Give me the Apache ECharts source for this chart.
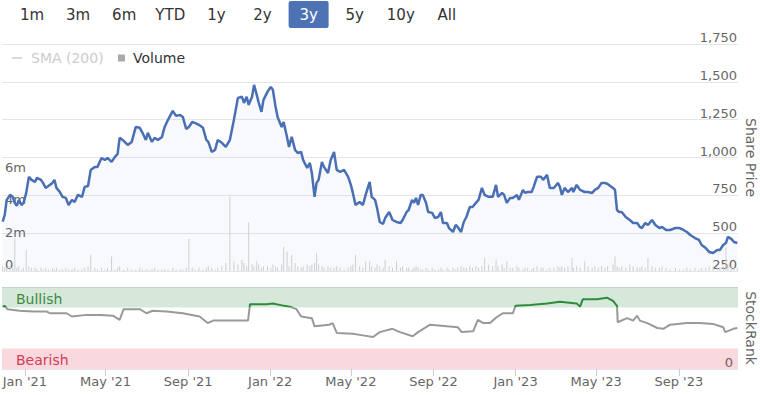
<!DOCTYPE html>
<html><head><meta charset="utf-8">
<script src="https://cdn.jsdelivr.net/npm/echarts@6/dist/echarts.min.js"></script>
<style>html,body{margin:0;padding:0;background:#fff}#c{width:760px;height:395px}</style>
</head><body><div id="c"></div>
<script>
// ---------- DATA ----------
const priceDates = [
'2020-11-29','2020-12-02','2020-12-05','2020-12-10','2020-12-14','2020-12-17','2020-12-20','2020-12-23','2020-12-27','2020-12-30',
'2021-01-03','2021-01-07','2021-01-11','2021-01-16','2021-01-19','2021-01-25','2021-01-28','2021-02-01','2021-02-05','2021-02-11',
'2021-02-14','2021-02-17','2021-02-22','2021-02-26','2021-03-03','2021-03-07','2021-03-12','2021-03-16','2021-03-21','2021-03-27',
'2021-03-31','2021-04-05','2021-04-09','2021-04-15','2021-04-19','2021-04-25','2021-04-30','2021-05-04','2021-05-10','2021-05-15',
'2021-05-19','2021-05-22','2021-05-28','2021-06-03','2021-06-09','2021-06-15','2021-06-21','2021-06-25','2021-06-30','2021-07-03',
'2021-07-09','2021-07-13','2021-07-18','2021-07-24','2021-07-28','2021-08-02','2021-08-09','2021-08-14','2021-08-20','2021-08-24',
'2021-08-29','2021-09-02','2021-09-07','2021-09-11','2021-09-17','2021-09-23','2021-09-28','2021-10-01','2021-10-06','2021-10-11',
'2021-10-15','2021-10-21','2021-10-27','2021-11-02','2021-11-08','2021-11-14','2021-11-20','2021-11-23','2021-11-27','2021-11-30',
'2021-12-05','2021-12-08','2021-12-12','2021-12-15','2021-12-19','2021-12-22','2021-12-28','2022-01-02','2022-01-05','2022-01-09',
'2022-01-12','2022-01-18','2022-01-21','2022-01-26','2022-01-29','2022-02-02','2022-02-07','2022-02-11','2022-02-16','2022-02-19',
'2022-02-25','2022-03-01','2022-03-04','2022-03-08','2022-03-11','2022-03-14','2022-03-19','2022-03-22','2022-03-28','2022-04-01',
'2022-04-06','2022-04-10','2022-04-15','2022-04-21','2022-04-27','2022-05-01','2022-05-04','2022-05-08','2022-05-14','2022-05-19',
'2022-05-23','2022-05-29','2022-06-01','2022-06-06','2022-06-09','2022-06-13','2022-06-18','2022-06-21','2022-06-27','2022-07-02',
'2022-07-08','2022-07-14','2022-07-17','2022-07-23','2022-07-26','2022-07-31','2022-08-03','2022-08-06','2022-08-09','2022-08-13',
'2022-08-16','2022-08-21','2022-08-24','2022-08-30','2022-09-03','2022-09-08','2022-09-12','2022-09-15','2022-09-21','2022-09-24',
'2022-09-30','2022-10-04','2022-10-07','2022-10-12','2022-10-16','2022-10-20','2022-10-25','2022-10-29','2022-11-03','2022-11-07',
'2022-11-12','2022-11-16','2022-11-22','2022-11-28','2022-12-03','2022-12-06','2022-12-12','2022-12-15','2022-12-19','2022-12-24',
'2022-12-28','2023-01-03','2023-01-06','2023-01-12','2023-01-15','2023-01-19','2023-01-25','2023-01-28','2023-02-02','2023-02-08',
'2023-02-11','2023-02-17','2023-02-21','2023-02-27','2023-03-05','2023-03-08','2023-03-11','2023-03-15','2023-03-20','2023-03-26',
'2023-03-28','2023-04-02','2023-04-07','2023-04-14','2023-04-19','2023-04-25','2023-04-29','2023-05-04','2023-05-09','2023-05-14',
'2023-05-18','2023-05-26','2023-05-29','2023-06-01','2023-06-04','2023-06-08','2023-06-14','2023-06-20','2023-06-25','2023-07-01',
'2023-07-05','2023-07-08','2023-07-13','2023-07-17','2023-07-23','2023-07-28','2023-08-03','2023-08-07','2023-08-13','2023-08-19',
'2023-08-27','2023-09-02','2023-09-08','2023-09-13','2023-09-18','2023-09-25','2023-10-01','2023-10-05','2023-10-11','2023-10-16',
'2023-10-22','2023-10-28','2023-11-01','2023-11-06','2023-11-10','2023-11-13','2023-11-18','2023-11-22','2023-11-27'
];
const priceValues = [
576,620,720,753,740,700,680,720,686,700,
766,872,852,839,865,852,832,799,812,832,
852,799,773,740,733,686,720,706,753,740,
806,812,918,938,938,997,984,997,971,1004,
1024,1130,1110,1083,1103,1202,1196,1163,1116,1163,
1103,1130,1116,1136,1202,1249,1308,1275,1281,1268,
1189,1202,1235,1229,1216,1196,1116,1103,1037,1050,
1116,1097,1070,1116,1249,1394,1401,1361,1401,1348,
1401,1480,1414,1361,1302,1381,1434,1467,1447,1335,
1268,1202,1235,1136,1070,1136,1050,1030,1037,984,
931,964,898,740,832,852,971,938,898,984,
1037,918,905,918,872,819,766,686,706,686,
753,839,740,720,667,574,561,600,640,587,
574,567,587,640,653,720,700,733,686,753,
753,700,640,634,600,607,640,567,567,534,
508,554,541,508,574,607,673,673,700,720,
799,753,740,740,819,740,766,753,700,733,
733,753,720,786,766,772,772,806,872,872,
852,885,799,799,832,806,753,799,772,799,
772,819,786,772,772,766,786,799,832,832,
825,799,786,653,640,640,607,587,567,567,
541,534,567,554,587,554,534,541,521,521,
534,534,521,508,488,468,455,422,402,376,
369,389,389,422,435,475,462,442,435
];
// volume in millions, on the same dates as the prices
const volumeValues = [
0.3,0.2,0.2,0.3,0.2,2.0,0.2,0.3,0.1,0.2,
1.3,0.3,0.2,0.2,0.1,0.2,0.1,0.2,0.1,0.2,
0.1,0.2,0.1,0.1,0.2,0.1,0.1,0.2,0.1,0.1,
0.2,0.3,1.0,0.2,0.1,0.2,0.1,0.2,0.9,0.1,
0.2,0.3,0.1,0.2,0.1,0.1,0.2,0.1,0.1,0.1,
0.1,0.2,0.1,0.1,0.1,0.1,0.2,0.1,0.1,0.1,
0.2,2.0,0.2,0.1,0.2,0.1,0.2,0.3,0.2,0.1,
0.2,0.3,0.5,4.6,0.6,0.4,0.7,0.5,0.3,3.0,
0.4,0.3,0.6,0.4,0.2,0.3,0.3,0.2,0.4,0.3,
0.2,0.4,1.5,1.2,0.3,1.0,0.5,0.3,0.2,0.3,
0.4,0.3,0.4,0.5,1.1,0.4,0.3,0.2,0.3,0.2,
0.2,0.3,0.2,0.1,0.2,0.3,0.4,1.0,0.3,0.2,
0.6,0.6,0.3,0.2,0.4,0.3,0.2,0.7,0.3,0.2,
0.6,0.2,0.3,0.2,0.2,0.1,0.2,0.3,0.2,0.1,
0.1,0.2,0.1,0.2,0.1,0.1,0.2,0.1,0.2,0.1,
0.2,0.1,0.2,0.3,0.2,0.2,0.3,0.2,0.3,0.2,
0.3,0.8,0.4,0.3,0.7,0.3,0.4,0.2,0.6,0.2,
0.2,0.3,0.2,0.1,0.2,0.2,0.1,0.2,0.3,0.2,
0.2,0.1,0.2,0.2,0.3,0.2,0.3,0.2,0.3,0.8,
0.2,0.3,0.2,0.6,0.3,0.2,0.3,0.2,0.3,0.2,
0.3,0.4,0.9,0.3,0.2,0.3,0.2,0.4,0.3,0.2,
0.2,0.3,0.2,0.8,0.3,0.2,0.2,0.3,0.2,0.1,
0.2,0.1,0.1,0.2,0.1,0.2,0.1,0.2,0.2,0.3,
0.3,0.2,0.2,0.3,1.5,0.4,0.3,0.2,0.2
];
const rankDates = [
'2020-11-29','2020-12-02','2020-12-06','2020-12-24','2021-01-13','2021-02-03','2021-02-07','2021-03-04','2021-03-12','2021-04-03',
'2021-04-23','2021-05-12','2021-05-22','2021-05-28','2021-06-21','2021-07-01','2021-07-10','2021-07-31','2021-08-24','2021-09-18',
'2021-09-30','2021-10-08','2021-11-07','2021-11-29','2021-12-02','2021-12-27','2022-01-05','2022-01-22','2022-01-30','2022-02-09',
'2022-02-16','2022-03-04','2022-03-08','2022-03-30','2022-04-04','2022-04-10','2022-05-04','2022-05-19','2022-06-03','2022-06-13',
'2022-07-02','2022-07-13','2022-08-01','2022-08-09','2022-08-27','2022-09-21','2022-10-07','2022-10-13','2022-10-30','2022-11-06',
'2022-11-14','2022-11-24','2022-12-02','2022-12-13','2022-12-28','2023-01-01','2023-01-23','2023-02-17','2023-03-08','2023-04-02',
'2023-04-07','2023-04-11','2023-05-02','2023-05-17','2023-05-26','2023-06-01','2023-06-02','2023-06-16','2023-06-25','2023-07-01',
'2023-07-05','2023-07-16','2023-07-31','2023-08-09','2023-08-19','2023-09-13','2023-10-02','2023-10-22','2023-11-06','2023-11-09',
'2023-11-21','2023-11-27'
];
const rankValues = [
76,77,73,71,70,70,68,68,64,66,
66,65,60,73,73,68,71,70,68,64,
56,59,59,59,79,79,80,77,76,73,
64,62,52,54,56,44,43,41,39,45,
49,45,40,45,54,52,51,45,46,60,
56,56,62,68,68,77,78,80,82,80,
76,85,85,87,83,77,57,62,59,65,
59,56,50,49,54,56,56,55,51,45,
49,50
];
const xTickDates = ['2021-01-01','2021-05-01','2021-09-01','2022-01-01','2022-05-01','2022-09-01','2023-01-01','2023-05-01','2023-09-01'];
const xTickLabels = ["Jan '21","May '21","Sep '21","Jan '22","May '22","Sep '22","Jan '23","May '23","Sep '23"];
const priceTicks = [250, 500, 750, 1000, 1250, 1500, 1750];
const volumeTicks = [0, 2, 4, 6];
const rangeButtons = ['1m','3m','6m','YTD','1y','2y','3y','5y','10y','All'];
const selectedRange = '3y';
const bandLabels = ['Bullish', 'Bearish'];
const bullishFrom = 75, bearishTo = 25, rankMax = 100;
const xStart = '2020-11-28', xEnd = '2023-11-28';

// ---------- CHART ----------
const FONT = "'DejaVu Sans', sans-serif";
const parseT = s => +echarts.time.parse(s);
const tickTimes = xTickDates.map(parseT);
const tMin = parseT(xStart), tMax = parseT(xEnd);
const n = Math.min(priceDates.length, priceValues.length);
const priceData = [], volData = [];
for (let i = 0; i < n; i++) {
  const t = parseT(priceDates[i]);
  priceData.push([t, priceValues[i]]);
  if (i < volumeValues.length) volData.push([t, volumeValues[i]]);
}
const rankData = rankDates.map((d, i) => [parseT(d), rankValues[i]]);
const fmtPrice = v => v >= 1000 ? Math.floor(v / 1000) + ',' + String(v % 1000).padStart(3, '0') : String(v);
const fmtDate = v => {
  let best = 0, bd = Infinity;
  tickTimes.forEach((t, i) => { const d = Math.abs(t - v); if (d < bd) { bd = d; best = i; } });
  return xTickLabels[best];
};

const RANK_TOP = 287, RANK_H = 82;
const cut = (rankMax - bullishFrom) / rankMax;
const rankStroke = new echarts.graphic.LinearGradient(0, RANK_TOP, 0, RANK_TOP + RANK_H, [
  { offset: 0, color: '#2e8b3a' }, { offset: cut, color: '#2e8b3a' },
  { offset: cut, color: '#999999' }, { offset: 1, color: '#999999' }
], true);

const graphics = [];
rangeButtons.forEach((b, i) => {
  const cx = 32 + i * 46.1;
  if (b === selectedRange) {
    graphics.push({ type: 'rect', shape: { x: cx - 20, y: 1, width: 40, height: 27, r: 2 }, style: { fill: '#4e73b5' } });
  }
  graphics.push({ type: 'text', x: cx, y: 15, style: {
    text: b, fill: b === selectedRange ? '#ffffff' : '#333333', font: '15px ' + FONT,
    align: 'center', verticalAlign: 'middle', textAlign: 'center', textVerticalAlign: 'middle' } });
});

const labelCommon = { inside: true, verticalAlign: 'bottom', color: '#666', fontSize: 13, fontFamily: FONT,
  showMinLabel: true, showMaxLabel: true, hideOverlap: false, interval: 0 };

const chart = echarts.init(document.getElementById('c'), null, { renderer: 'svg' });
chart.setOption({
  animation: false,
  textStyle: { fontFamily: FONT },
  graphic: graphics,
  legend: [
    { data: [{ name: 'SMA (200)', icon: 'rect' }], left: 12, top: 51, padding: 0, itemWidth: 10, itemHeight: 1.5,
      selected: { 'SMA (200)': false }, inactiveColor: '#cccccc',
      textStyle: { fontSize: 14, color: '#333', fontFamily: FONT, padding: [0, 0, 0, 4] } },
    { data: [{ name: 'Volume', icon: 'rect', itemStyle: { color: '#aaaaaa' } }], left: 118, top: 51, padding: 0,
      itemWidth: 7, itemHeight: 7,
      textStyle: { fontSize: 14, color: '#333', fontFamily: FONT, padding: [0, 0, 0, 3] } }
  ],
  grid: [
    { left: 2, right: 22, top: 44, height: 227, outerBoundsMode: 'none', containLabel: false },
    { left: 2, right: 22, top: RANK_TOP, height: RANK_H, outerBoundsMode: 'none', containLabel: false }
  ],
  xAxis: [
    { type: 'value', gridIndex: 0, min: tMin, max: tMax, show: false, splitLine: { show: false } },
    { type: 'value', gridIndex: 1, min: tMin, max: tMax,
      axisLine: { show: false },
      axisTick: { show: true, length: 7, customValues: tickTimes, lineStyle: { color: '#cccccc' } },
      axisLabel: { customValues: tickTimes, formatter: fmtDate, color: '#666', fontSize: 13, fontFamily: FONT, margin: 6 },
      splitLine: { show: false } }
  ],
  yAxis: [
    { type: 'value', gridIndex: 0, position: 'right', min: 250, max: 1750, interval: 250,
      name: 'Share Price', nameLocation: 'middle', nameRotate: -90, nameGap: 6, nameMoveOverlap: false,
      nameTextStyle: { fontSize: 14, color: '#666', fontFamily: FONT },
      axisLine: { show: false }, axisTick: { show: false },
      axisLabel: Object.assign({}, labelCommon, { margin: 1, customValues: priceTicks, formatter: fmtPrice }),
      splitLine: { lineStyle: { color: '#e6e6e6' } } },
    { type: 'value', gridIndex: 0, position: 'left', min: 0, max: 14,
      axisLine: { show: false }, axisTick: { show: false }, splitLine: { show: false },
      axisLabel: Object.assign({}, labelCommon, { margin: 3, customValues: volumeTicks,
        formatter: v => v === 0 ? '0' : v + 'm' }) },
    { type: 'value', gridIndex: 1, position: 'right', min: 0, max: rankMax, interval: rankMax,
      name: 'StockRank', nameLocation: 'middle', nameRotate: -90, nameGap: 6, nameMoveOverlap: false,
      nameTextStyle: { fontSize: 14, color: '#666', fontFamily: FONT },
      axisLine: { show: false }, axisTick: { show: false },
      axisLabel: Object.assign({}, labelCommon, { margin: 5, formatter: v => v === 0 ? '0' : '' }),
      splitLine: { lineStyle: { color: '#e6e6e6' } } }
  ],
  series: [
    { name: 'Volume', type: 'bar', xAxisIndex: 0, yAxisIndex: 1, data: volData, barWidth: 1,
      itemStyle: { color: '#cfcfcf' }, z: 3, silent: true },
    { name: 'Price', type: 'line', xAxisIndex: 0, yAxisIndex: 0, data: priceData, symbol: 'none',
      lineStyle: { color: '#4a6fb4', width: 2.5 }, itemStyle: { color: '#4a6fb4' },
      areaStyle: { color: 'rgba(74,111,180,0.06)', origin: 'start' }, z: 2 },
    { name: 'SMA (200)', type: 'line', xAxisIndex: 0, yAxisIndex: 0, data: [], symbol: 'none',
      lineStyle: { color: '#cccccc', width: 1 }, itemStyle: { color: '#cccccc' } },
    { name: 'StockRank', type: 'line', xAxisIndex: 1, yAxisIndex: 2, data: rankData, symbol: 'none',
      lineStyle: { width: 2, color: rankStroke }, itemStyle: { color: '#999999' }, z: 3,
      markArea: { silent: true, data: [
        [{ yAxis: bullishFrom, name: bandLabels[0], itemStyle: { color: 'rgba(46,139,70,0.2)' },
           label: { color: '#3d8b3d', fontSize: 14, fontFamily: FONT, position: 'insideLeft', distance: 14, offset: [0, 2] } },
         { yAxis: rankMax }],
        [{ yAxis: 0, name: bandLabels[1], itemStyle: { color: 'rgba(220,40,70,0.18)' },
           label: { color: '#d23c5a', fontSize: 14, fontFamily: FONT, position: 'insideLeft', distance: 14, offset: [0, 1] } },
         { yAxis: bearishTo }]
      ] } }
  ]
});
</script></body></html>
